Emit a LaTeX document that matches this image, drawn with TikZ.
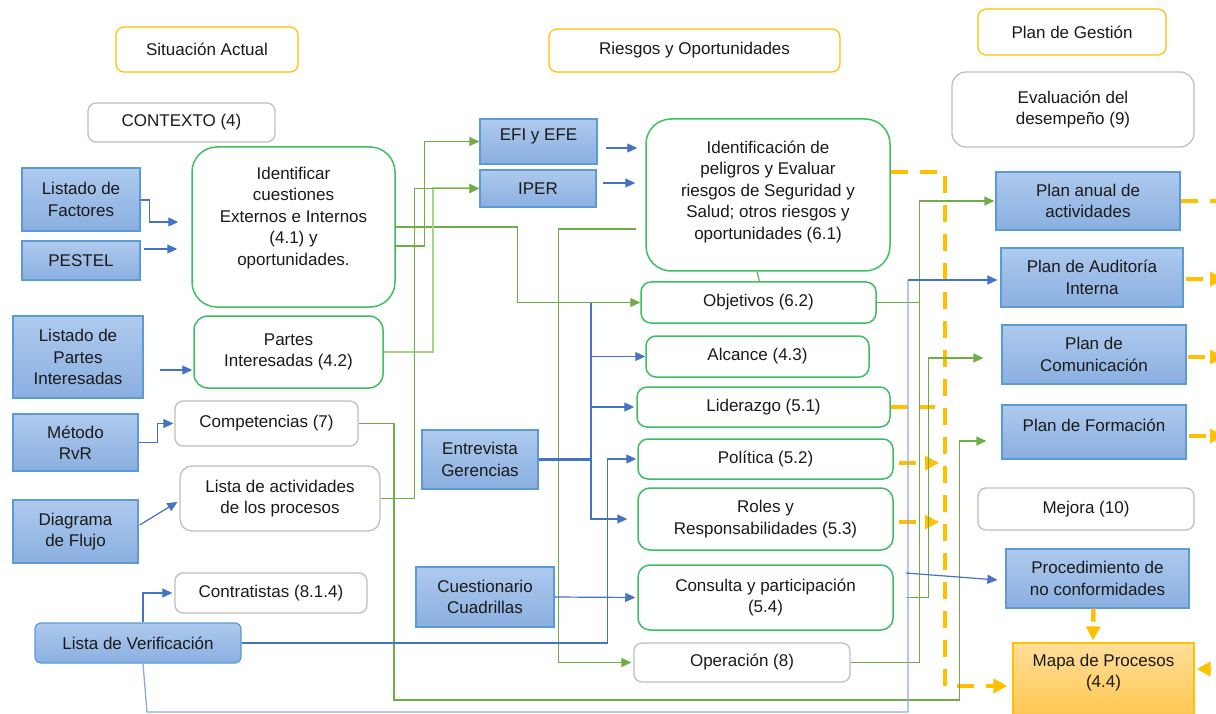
\documentclass[tikz,border=0pt]{standalone}
\usepackage{fontspec}
\setmainfont{Liberation Sans}
\usetikzlibrary{arrows.meta,calc}
\definecolor{cblue}{HTML}{4472C4}
\definecolor{cbluel}{HTML}{8FAAE0}
\definecolor{cgreen}{HTML}{70AD47}
\definecolor{cgreenl}{HTML}{A9D18E}
\definecolor{bgreen}{HTML}{3DBE63}
\definecolor{cgray}{HTML}{BFBFBF}
\definecolor{corange}{HTML}{FFC000}
\definecolor{btop}{HTML}{AECAEE}
\definecolor{bbot}{HTML}{8AAFE0}
\definecolor{bborder}{HTML}{5B9BD5}
\definecolor{otop}{HTML}{FFDE9A}
\definecolor{obot}{HTML}{FFC64F}
\definecolor{tx}{HTML}{1A1A1A}
\newcommand\dfont{\fontsize{17}{21.5}\selectfont}
\begin{document}
\begin{tikzpicture}[x=1pt,y=-1pt,
  base/.style={align=center, inner sep=0pt, font=\dfont, text=tx},
  lab/.style={align=center, inner sep=0pt, font=\dfont, text=tx},
  sz/.style 2 args={minimum width=#1pt, minimum height=#2pt},
  hdr/.style={base, draw=corange, line width=1.2pt, rounded corners=8pt, fill=white},
  gbx/.style={base, draw=cgray, line width=1.3pt, rounded corners=8pt, fill=white},
  grb/.style={base, draw=bgreen, line width=1.5pt, rounded corners=10pt, fill=white},
  bbx/.style={base, draw=bborder, line width=1.2pt, top color=btop, bottom color=bbot},
  mapbox/.style={base, draw=corange, line width=1.2pt, top color=otop, bottom color=obot},
  bl/.style={draw=cblue, line width=1.2pt, -{Triangle[length=10pt,width=9pt]}},
  bll/.style={draw=cbluel, line width=1.3pt},
  bthick/.style={draw=cblue, line width=2.4pt},
  gr/.style={draw=cgreen, line width=1.2pt, -{Triangle[length=10pt,width=9pt]}},
  grn/.style={draw=cgreen, line width=1.2pt},
  grl/.style={draw=cgreenl, line width=2pt, -{Triangle[length=10pt,width=9pt]}},
  od/.style={draw=corange, line width=4.5pt, dash pattern=on 17pt off 12pt, -{Triangle[length=14pt,width=14pt]}},
  odn/.style={draw=corange, line width=4.5pt, dash pattern=on 17pt off 12pt}
]
\useasboundingbox (0,0) rectangle (1216,714);

% headers
\node[hdr, sz={182}{45}] (h1) at (207,49.5) {Situación Actual};
\node[hdr, sz={291}{43}] (h2) at (694.5,50.5) {Riesgos y Oportunidades};
\node[hdr, sz={188}{46}] (h3) at (1072,32) {Plan de Gestión};

% gray boxes
\node[gbx, sz={187}{39}] (ctx) at (181.5,122.5) {CONTEXTO (4)};
\node[gbx, rounded corners=14pt, sz={242}{75}] (ev) at (1073,109.5) {Evaluación del\\desempeño (9)};
\node[gbx, sz={183}{45}] (comp) at (266.5,423.5) {Competencias (7)};
\node[gbx, rounded corners=12pt, sz={200}{65}] (la) at (280,498.5) {Lista de actividades\\de los procesos};
\node[gbx, sz={192}{40}] (ct) at (271,593) {Contratistas (8.1.4)};
\node[gbx, sz={216}{39}] (op) at (742,662.5) {Operación (8)};
\node[gbx, sz={216}{42}] (mj) at (1086,509) {Mejora (10)};

% green boxes
\node[grb, rounded corners=25pt, sz={203}{160},
  label={[lab,yshift=9pt]center:{Identificar\\cuestiones\\Externos e Internos\\(4.1) y\\oportunidades.}}] (idf) at (293.5,227) {};
\node[grb, rounded corners=14pt, sz={189}{72}] (pi) at (288.5,352) {Partes\\Interesadas (4.2)};
\node[grb, rounded corners=25pt, sz={244}{152},
  label={[lab,yshift=3pt]center:{Identificación de\\peligros y Evaluar\\riesgos de Seguridad y\\Salud; otros riesgos y\\oportunidades (6.1)}}] (ip61) at (768,195) {};
\node[grb, sz={235}{41}] (ob) at (758.5,302.5) {Objetivos (6.2)};
\node[grb, sz={223}{41}] (al) at (757.5,356.5) {Alcance (4.3)};
\node[grb, sz={253}{40}] (li) at (763.5,407) {Liderazgo (5.1)};
\node[grb, sz={255}{40}] (pol) at (765.5,459) {Política (5.2)};
\node[grb, rounded corners=12pt, sz={255}{62}] (ro) at (765.5,519) {Roles y\\Responsabilidades (5.3)};
\node[grb, rounded corners=12pt, sz={255}{65}] (cp) at (765.5,597.5) {Consulta y participación\\(5.4)};

% blue boxes
\node[bbx, sz={118}{63}] (lf) at (81,199.5) {Listado de\\Factores};
\node[bbx, sz={118}{39}] (pe) at (81,260.5) {PESTEL};
\node[bbx, sz={130}{82}] (lpi) at (78,357) {Listado de\\Partes\\Interesadas};
\node[bbx, sz={125}{57}] (rvr) at (75.5,442.5) {Método\\RvR};
\node[bbx, sz={125}{63}] (df) at (75.5,531.5) {Diagrama\\de Flujo};
\node[bbx, rounded corners=6pt, sz={206}{40}] (lv) at (138,643) {Lista de Verificación};
\node[bbx, sz={117}{45}, label={[lab,yshift=5pt]center:EFI y EFE}] (efi) at (538.5,141.5) {};
\node[bbx, sz={116}{37}] (iper) at (538,188.5) {IPER};
\node[bbx, sz={116}{59}] (eg) at (480,459.5) {Entrevista\\Gerencias};
\node[bbx, sz={138}{60}] (cc) at (485,597) {Cuestionario\\Cuadrillas};
\node[bbx, sz={184}{58}] (paa) at (1088,201) {Plan anual de\\actividades};
\node[bbx, sz={182}{59}] (pa) at (1092,277.5) {Plan de Auditoría\\Interna};
\node[bbx, sz={184}{59}] (pc) at (1094,354.5) {Plan de\\Comunicación};
\node[bbx, sz={184}{54}, label={[lab,yshift=7pt]center:Plan de Formación}] (pf) at (1094,432) {};
\node[bbx, sz={183}{59}] (pnc) at (1097.5,578.5) {Procedimiento de\\no conformidades};
\node[mapbox, sz={181}{75}, label={[lab,yshift=8pt]center:{Mapa de Procesos\\(4.4)}}] (mp) at (1103.5,680.5) {};

% orange dashed connectors
\draw[od] ($(ip61.east)+(0,-23)$) -- (945,172) -- (945,686) -- ($(mp.west)+(-5,5.5)$);
\draw[odn] (li.east) -- (935,407);
\draw[od] ($(pol.east)+(5,4)$) -- (939,463);
\draw[od] ($(ro.east)+(5,3)$) -- (939,522);
\draw[odn] (paa.east) -- (1220,201);
\draw[od] ($(pa.east)+(2,1.5)$) -- (1224,279);
\draw[od] ($(pc.east)+(1,2.5)$) -- (1224,357);
\draw[od] ($(pf.east)+(2,4)$) -- (1224,436);
\draw[od, dash pattern=on 13pt off 5pt] ($(pnc.south)+(-4,0)$) -- ($(mp.north)+(-10.5,-2)$);
\coordinate (rin) at (1240,669);
\draw[od] (rin) -- ($(mp.east)+(2,-11.5)$);

% green connectors
\draw[gr] ($(idf.east)+(0,19)$) -- ++(29,0) |- (efi.west);
\draw[gr] (idf.east) -- ++(122,0) |- (ob.west);
\draw[grl] (pi.east) -- ++(49,0) |- (iper.west);
\draw[gr] (la.east) -- ++(34,0) |- (iper.west);
\draw[gr] (comp.east) -| (394,700) -| ($(pf.west)+(-42,9)$) -- ($(pf.west)+(-15,9)$);
\draw[gr] ($(ip61.west)+(-9,34)$) -| ($(op.west)+(-75,0)$) -- ([xshift=-2pt]op.west);
\draw[gr] (ob.east) -- ++(43,0) |- ([xshift=-1pt]paa.west);
\draw[grn] (op.east) -| ($(ob.east)+(43,0)$);
\draw[gr] ($(cp.east)+(12,0)$) -- ++(23,0) |- ($(pc.west)+(-18,3.5)$);
\draw[grn] ($(ip61.south)+(-11,0)$) -- ($(ob.north)+(1,0)$);

% blue connectors
\draw[bl] ($(lf.east)+(0,0.5)$) -- ++(9,0) |- ($(idf.west)+(-13,-5)$);
\draw[bl] ($(pe.east)+(3,-11.5)$) -- ($(idf.west)+(-14,22)$);
\draw[bl] ($(lpi.east)+(16,13)$) -- ($(pi.west)+(-1,18)$);
\draw[bl] (rvr.east) -- ++(19,0) |- ([xshift=-1pt]comp.west);
\draw[bl] ($(df.east)+(1,-6.5)$) -- ($(la.west)+(-2,3.5)$);
\draw[bl] ($(lv.north)+(5,0)$) |- ([xshift=-2pt]ct.west);
\draw[bl] (lv.east) -| ($(pol.west)+(-30,0)$) -- ([xshift=-1pt]pol.west);
\coordinate (vb) at (908,280);
\draw[bll] ($(lv.south)+(5,0)$) -- (147,712) -| (vb);
\draw[bl] (vb) -- ($(pa.west)+(-3,2.5)$);
\coordinate (ej) at (591,459.5);
\draw[bthick] (eg.east) -- (ej) -- (ej |- ob.west);
\draw[bl] (ej |- al.west) -- (al.west);
\draw[bl] (ej |- li.west) -- ([xshift=-2pt]li.west);
\draw[bl] (ej) -- (ej |- ro.west) -- ([xshift=-10pt]ro.west);
\draw[bl] (cc.east) -- ([xshift=-2pt]cp.west);
\draw[bl] ($(efi.east)+(8,6.5)$) -- ($(ip61.west |- efi.east)+(-8,6.5)$);
\draw[bl] ($(iper.east)+(6,-5.5)$) -- ($(ip61.west |- iper.east)+(-10,-5.5)$);
\draw[bl] ($(cp.east)+(12,-24.5)$) -- ($(pnc.west)+(-8,1.5)$);
\end{tikzpicture}
\end{document}
